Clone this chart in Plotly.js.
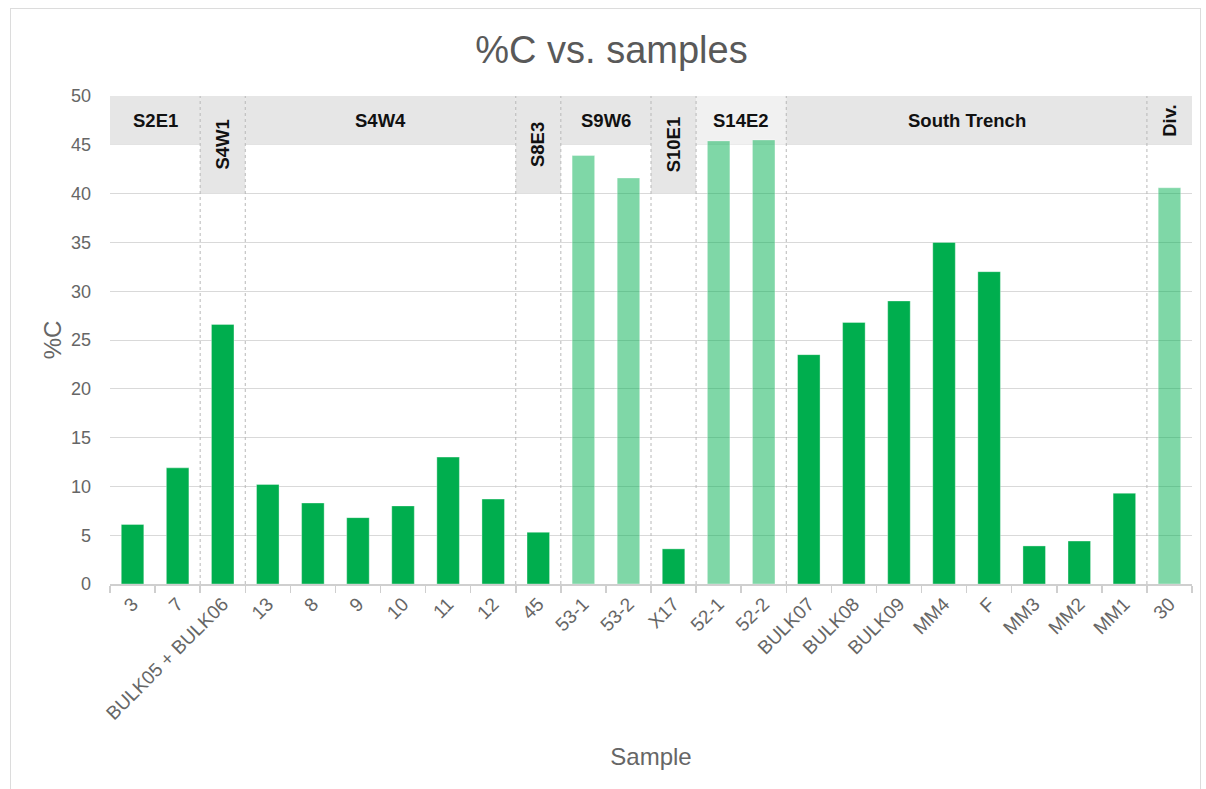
<!DOCTYPE html>
<html>
<head>
<meta charset="utf-8">
<script src="https://cdn.plot.ly/plotly-3.0.1.min.js"></script>
<style>
  html, body { margin: 0; padding: 0; background: #fff; overflow: hidden; }
  #chart { position: absolute; left: 0; top: 0; width: 1206px; height: 789px; }
  #frame { position: absolute; left: 10px; top: 8px; width: 1189px; height: 800px;
           border: 1px solid #dcdcdc; border-bottom: none; pointer-events: none; }
</style>
</head>
<body>
<div id="chart"></div>
<div id="frame"></div>
<script>
// ---- data ----
const samples = ['3', '7', 'BULK05 + BULK06', '13', '8', '9', '10', '11', '12', '45',
  '53-1', '53-2', 'X17', '52-1', '52-2', 'BULK07', 'BULK08', 'BULK09', 'MM4', 'F',
  'MM3', 'MM2', 'MM1', '30'];
const carbonPct = [6.1, 11.9, 26.6, 10.2, 8.3, 6.8, 8.0, 13.0, 8.7, 5.3,
  43.9, 41.6, 3.6, 45.4, 45.5, 23.5, 26.8, 29.0, 35.0, 32.0,
  3.9, 4.4, 9.3, 40.6];
const sites = ['S2E1', 'S2E1', 'S4W1', 'S4W4', 'S4W4', 'S4W4', 'S4W4', 'S4W4', 'S4W4', 'S8E3',
  'S9W6', 'S9W6', 'S10E1', 'S14E2', 'S14E2', 'South Trench', 'South Trench', 'South Trench',
  'South Trench', 'South Trench', 'South Trench', 'South Trench', 'South Trench', 'Div.'];
const lightSeries = [false, false, false, false, false, false, false, false, false, false,
  true, true, false, true, true, false, false, false, false, false,
  false, false, false, true];
const yTicks = [0, 5, 10, 15, 20, 25, 30, 35, 40, 45, 50];

// ---- styles ----
const SOLID = '#00ae4e';
const PALE = 'rgba(0,176,80,0.5)';
const FONT = 'Liberation Sans, Arial, Helvetica, sans-serif';
const tallBox = {'S4W1': 40, 'S8E3': 40, 'S10E1': 40};
const bandFill = {'S14E2': '#f1f1f1'};

// group spans from sites
const groups = [];
sites.forEach((s, i) => {
  if (groups.length && groups[groups.length - 1].name === s) groups[groups.length - 1].end = i;
  else groups.push({name: s, start: i, end: i});
});

const shapes = [];
const annotations = [];
groups.forEach((g, k) => {
  const x0 = g.start - 0.5, x1 = g.end + 0.5;
  const bottom = tallBox[g.name] !== undefined ? tallBox[g.name] : 45;
  shapes.push({type: 'rect', xref: 'x', yref: 'y', x0: x0, x1: x1, y0: bottom, y1: 50,
    fillcolor: bandFill[g.name] || '#e6e6e6', line: {width: 0}, layer: 'between'});
  const single = g.start === g.end;
  annotations.push({xref: 'x', yref: 'y', x: (g.start + g.end) / 2, y: (bottom + 50) / 2,
    text: '<b>' + g.name + '</b>', showarrow: false, textangle: single ? -90 : 0,
    font: {family: FONT, size: 18.5, color: '#111'}, xanchor: 'center', yanchor: 'middle'});
  if (k > 0) {
    shapes.push({type: 'line', xref: 'x', yref: 'y', x0: x0, x1: x0, y0: 0, y1: 50,
      line: {color: '#b8b8b8', width: 1, dash: '3px,3px'}, layer: 'above'});
  }
});

const trace = {
  type: 'bar',
  x: samples,
  y: carbonPct,
  marker: {color: lightSeries.map(p => p ? PALE : SOLID),
           line: {color: 'rgba(255,255,255,0.35)', width: 1}},
  width: 0.5,
  hoverinfo: 'x+y'
};

const layout = {
  width: 1206, height: 789,
  margin: {l: 110, r: 14, t: 96, b: 205},
  paper_bgcolor: '#fff', plot_bgcolor: '#fff',
  showlegend: false,
  title: {text: '%C vs. samples', x: 0.507, xref: 'container', xanchor: 'center',
          y: 0.937, yref: 'container', yanchor: 'middle',
          font: {family: FONT, size: 38, color: '#595959'}},
  xaxis: {type: 'category', tickangle: -45, tickson: 'boundaries', ticks: 'outside',
          ticklen: 7, tickcolor: '#cfcfcf', tickwidth: 1.5, showline: true, linecolor: '#cfcfcf',
          linewidth: 1.5, showgrid: false, zeroline: false, automargin: false,
          tickfont: {family: FONT, size: 19, color: '#666'},
          title: {text: 'Sample', font: {family: FONT, size: 24, color: '#666'}, standoff: 25}},
  yaxis: {range: [0, 50], tickvals: yTicks, ticktext: yTicks.map(String), showline: false,
          gridcolor: '#d9d9d9', gridwidth: 1, zeroline: false, automargin: false,
          ticks: '', ticklabelstandoff: 18,
          tickfont: {family: FONT, size: 18, color: '#666'},
          title: {text: '%C', font: {family: FONT, size: 24, color: '#666'}, standoff: 2}},
  shapes: shapes,
  annotations: annotations
};

Plotly.newPlot('chart', [trace], layout, {displayModeBar: false, staticPlot: true});
</script>
</body>
</html>
